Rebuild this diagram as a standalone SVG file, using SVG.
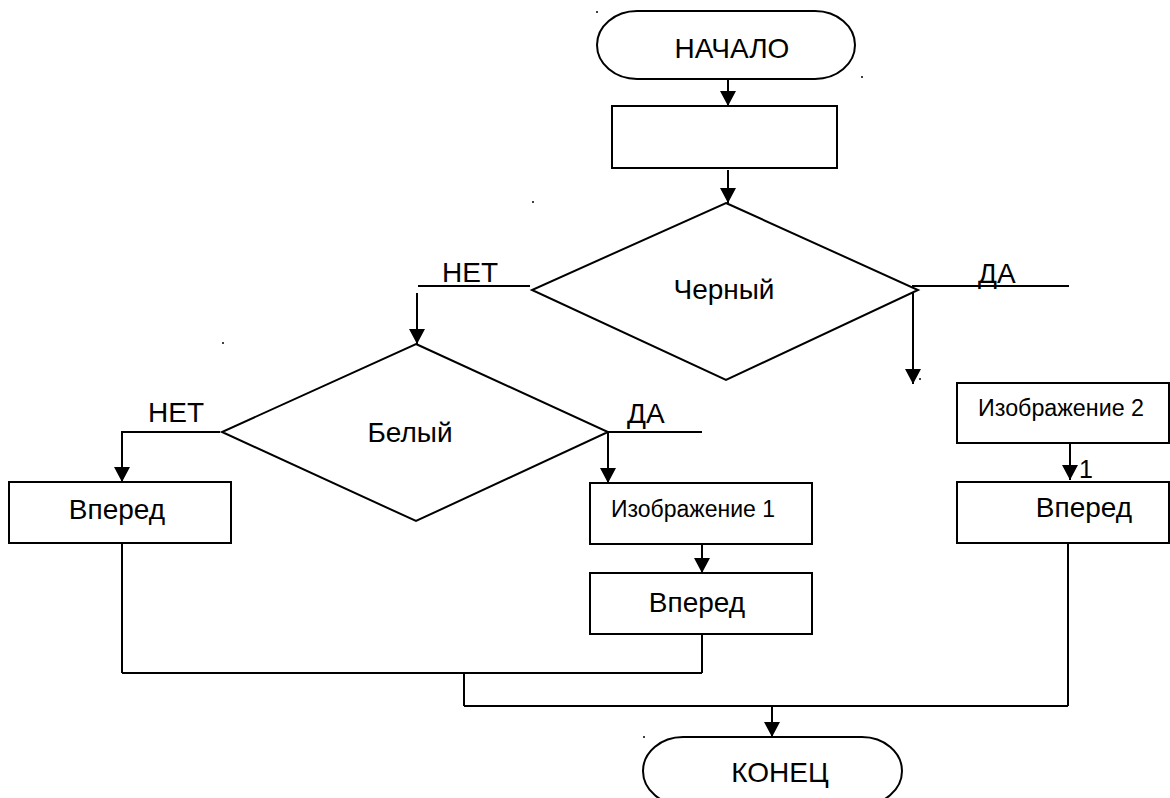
<svg xmlns="http://www.w3.org/2000/svg" width="1170" height="798" viewBox="0 0 1170 798">
  <style>
    .shape { fill: #fff; stroke: #000; stroke-width: 2; }
    .line { fill: none; stroke: #000; stroke-width: 2; }
    .lbl { font-family: "Liberation Sans", Arial, sans-serif; font-size: 28px; fill: #000; }
    .small { font-family: "Liberation Sans", Arial, sans-serif; font-size: 23px; fill: #000; }
    .dot { fill: #000; }
  </style>
  <defs>
    <marker id="arrow" markerUnits="userSpaceOnUse" markerWidth="16" markerHeight="16" viewBox="0 0 16 16" refX="15" refY="8" orient="auto">
      <path d="M0,0 L15,8 L0,16 Z" fill="#000"/>
    </marker>
  </defs>
  <rect width="1170" height="798" fill="#fff"/>

  <!-- connectors -->
  <g id="connectors">
    <line class="line" x1="728" y1="79" x2="728" y2="106" marker-end="url(#arrow)"/>
    <line class="line" x1="728" y1="170" x2="728" y2="203" marker-end="url(#arrow)"/>
    <!-- Черный: НЕТ branch -->
    <line class="line" x1="418" y1="286" x2="530" y2="286"/>
    <line class="line" x1="417" y1="293" x2="417" y2="344" marker-end="url(#arrow)"/>
    <!-- Черный: ДА branch -->
    <line class="line" x1="912" y1="286" x2="1069" y2="286"/>
    <line class="line" x1="913" y1="293" x2="913" y2="384" marker-end="url(#arrow)"/>
    <!-- Белый: НЕТ branch -->
    <polyline class="line" points="220,432 122,432 122,482" marker-end="url(#arrow)"/>
    <!-- Белый: ДА branch -->
    <line class="line" x1="608" y1="432" x2="702" y2="432"/>
    <line class="line" x1="608" y1="432" x2="608" y2="483" marker-end="url(#arrow)"/>
    <line class="line" x1="702" y1="544" x2="702" y2="573" marker-end="url(#arrow)"/>
    <line class="line" x1="1070" y1="443" x2="1070" y2="480" marker-end="url(#arrow)"/>
    <!-- merging lines -->
    <line class="line" x1="122" y1="543" x2="122" y2="673"/>
    <line class="line" x1="702" y1="634" x2="702" y2="673"/>
    <line class="line" x1="122" y1="673" x2="702" y2="673"/>
    <line class="line" x1="464" y1="673" x2="464" y2="706"/>
    <line class="line" x1="1068" y1="543" x2="1068" y2="706"/>
    <line class="line" x1="464" y1="706" x2="1068" y2="706"/>
    <line class="line" x1="772" y1="706" x2="772" y2="737" marker-end="url(#arrow)"/>
  </g>

  <!-- branch labels -->
  <g id="labels">
    <text class="lbl" x="442" y="282">НЕТ</text>
    <text class="lbl" x="978" y="283">ДА</text>
    <text class="lbl" x="148" y="422">НЕТ</text>
    <text class="lbl" x="627" y="423">ДА</text>
    <text class="lbl" x="1079" y="478" style="font-size:25px">1</text>
  </g>

  <g id="start">
    <rect class="shape" x="597" y="11" width="258" height="68" rx="40" ry="34"/>
    <text class="lbl" x="732" y="58" text-anchor="middle">НАЧАЛО</text>
  </g>

  <g id="init">
    <rect class="shape" x="612" y="106" width="225" height="62"/>
  </g>

  <g id="black">
    <polygon class="shape" points="726,203 918,290 726,380 532,290"/>
    <text class="lbl" x="724" y="299" text-anchor="middle">Черный</text>
  </g>

  <g id="white">
    <polygon class="shape" points="416,344 608,432 416,521 222,432"/>
    <text class="lbl" x="410" y="442" text-anchor="middle">Белый</text>
  </g>

  <g id="forward-left">
    <rect class="shape" x="9" y="482" width="222" height="61"/>
    <text class="lbl" x="117" y="519" text-anchor="middle">Вперед</text>
  </g>

  <g id="image1">
    <rect class="shape" x="590" y="483" width="222" height="61"/>
    <text class="small" x="611" y="517" textLength="164" lengthAdjust="spacingAndGlyphs">Изображение 1</text>
  </g>

  <g id="forward-mid">
    <rect class="shape" x="590" y="573" width="222" height="61"/>
    <text class="lbl" x="697" y="612" text-anchor="middle">Вперед</text>
  </g>

  <g id="image2">
    <rect class="shape" x="957" y="383" width="212" height="60"/>
    <text class="small" x="978" y="416" textLength="166" lengthAdjust="spacingAndGlyphs">Изображение 2</text>
  </g>

  <g id="forward-right">
    <rect class="shape" x="957" y="482" width="212" height="61"/>
    <text class="lbl" x="1084" y="517" text-anchor="middle">Вперед</text>
  </g>

  <g id="end">
    <rect class="shape" x="643" y="737" width="259" height="68" rx="40" ry="34"/>
    <text class="lbl" x="780" y="782" text-anchor="middle">КОНЕЦ</text>
  </g>

  <!-- specks -->
  <g id="specks">
    <circle class="dot" cx="597" cy="12" r="1"/>
    <circle class="dot" cx="862" cy="77" r="1"/>
    <circle class="dot" cx="533" cy="202" r="1"/>
    <circle class="dot" cx="223" cy="343" r="1"/>
    <circle class="dot" cx="920" cy="379" r="1"/>
    <circle class="dot" cx="644" cy="737" r="1"/>
  </g>
</svg>
